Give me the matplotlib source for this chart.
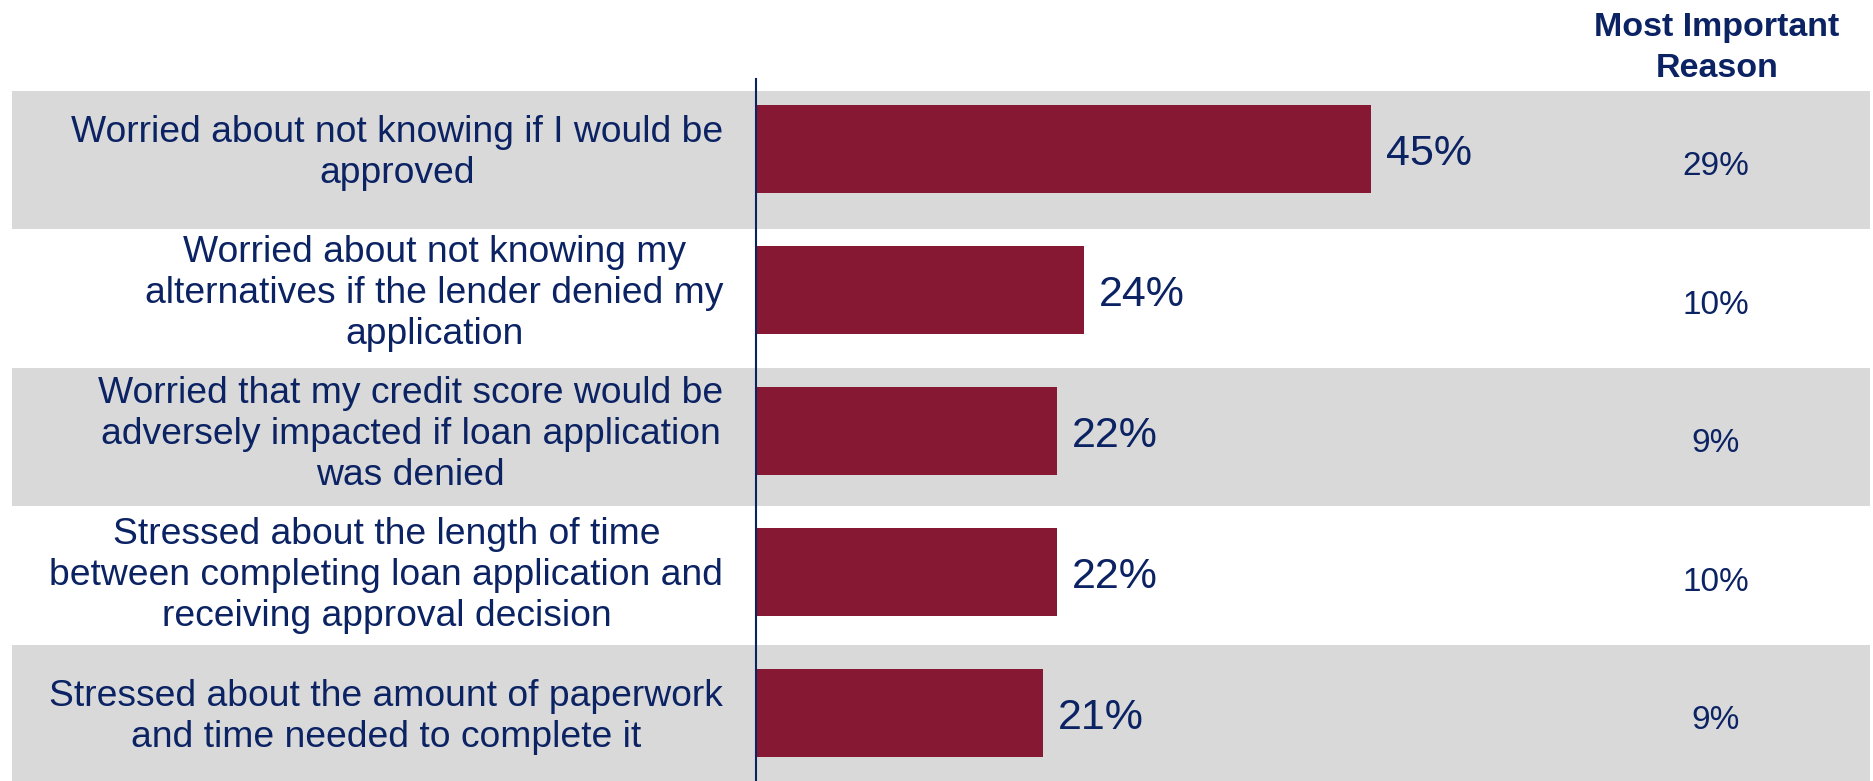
import numpy as np
import matplotlib.pyplot as plt
from matplotlib.patches import Rectangle
from matplotlib.transforms import blended_transform_factory

reasons = [
    'Worried about not knowing if I would be\napproved',
    'Worried about not knowing my\nalternatives if the lender denied my\napplication',
    'Worried that my credit score would be\nadversely impacted if loan application\nwas denied',
    'Stressed about the length of time\nbetween completing loan application and\nreceiving approval decision',
    'Stressed about the amount of paperwork\nand time needed to complete it',
]
any_reason = [45, 24, 22, 22, 21]
most_important = [29, 10, 9, 10, 9]

navy = '#0b2263'
bar_color = '#861834'
band_color = '#d9d9d9'

plt.rcParams['font.family'] = ['Liberation Sans', 'DejaVu Sans']

fig = plt.figure(figsize=(18.73, 7.81), dpi=100)
ax = fig.add_axes([756 / 1873, 0, 1117 / 1873, 702 / 781])
ax.patch.set_visible(False)

n = len(reasons)
rows = np.arange(n)
bar_y = rows * 1.018 - 0.08

# alternating grey bands behind every other row, across the whole width
band_tr = blended_transform_factory(fig.transFigure, ax.transData)
for i in rows[::2]:
    ax.add_patch(Rectangle((12 / 1873, i - 0.5), 1858 / 1873, 1, transform=band_tr,
                           facecolor=band_color, edgecolor='none', zorder=0, clip_on=False))

ax.barh(bar_y, any_reason, height=0.635, color=bar_color, zorder=2)
for y, v in zip(bar_y, any_reason):
    ax.annotate(f'{v}%', (v, y), xytext=(11, -3.6), textcoords='offset points',
                ha='left', va='center', fontsize=31, color=navy)

# row labels, right aligned against the axis line
for y, label in zip(bar_y, reasons):
    ax.annotate(label, (0, y), xytext=(-23.5, -2.7), textcoords='offset points',
                ha='right', va='center', multialignment='center', linespacing=1.22,
                fontsize=26.8, color=navy, annotation_clip=False)

for i, v in zip(rows, most_important):
    ax.text(1716 / 1873, i + 0.05, f'{v}%', transform=band_tr,
            ha='center', va='center', fontsize=24, color=navy)

fig.text(1717 / 1873, 1 - 48 / 781, 'Most Important\nReason', ha='center', va='center',
         fontsize=24.5, fontweight='bold', color=navy, linespacing=1.45)

ax.set_xlim(0, 1117 / 13.67)
ax.set_ylim(4.484, -0.585)
ax.set_xticks([])
ax.set_yticks([])

for side in ['top', 'right', 'bottom']:
    ax.spines[side].set_visible(False)
ax.spines['left'].set_color(navy)
ax.spines['left'].set_linewidth(1.5)

fig.savefig('out.png', dpi=100)
